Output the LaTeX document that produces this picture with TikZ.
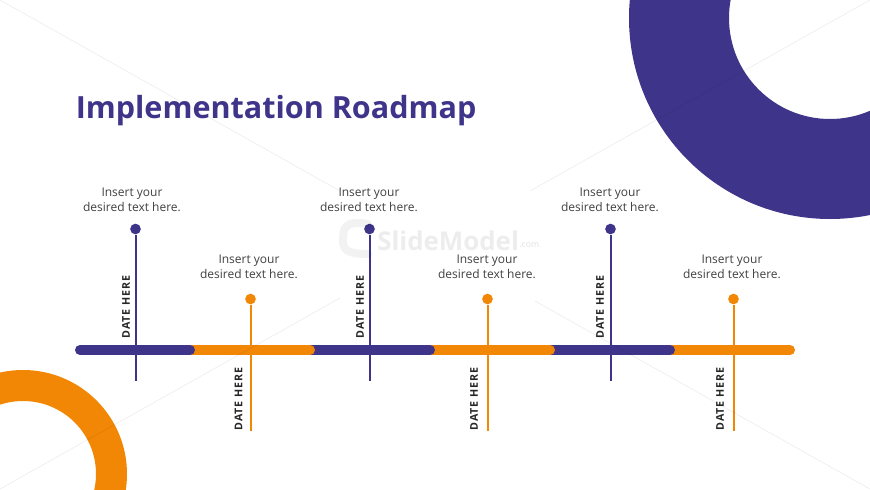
\documentclass[tikz,border=0pt]{standalone}
\usepackage{fontspec}
\usetikzlibrary{positioning}
\setmainfont{Open Sans}
\newfontfamily\datefont[LetterSpace=9]{Open Sans}
\definecolor{roadpurple}{HTML}{3E358B}
\definecolor{roadorange}{HTML}{F28705}
\definecolor{roadtext}{HTML}{404040}
\tikzset{
	blurb/.style={align=center, text=roadtext, font=\fontsize{9}{11.2}\selectfont, inner sep=0pt},
	datelabel/.style={rotate=90, text=black!85, font=\datefont\bfseries\fontsize{8}{9}\selectfont, inner sep=0pt},
	pinpurple/.style={circle, fill=roadpurple, minimum size=8pt, inner sep=0pt},
	pinorange/.style={circle, fill=roadorange, minimum size=8pt, inner sep=0pt},
	stempurple/.style={draw=roadpurple, line width=1.5pt},
	stemorange/.style={draw=roadorange, line width=1.5pt},
	barpurple/.style={draw=roadpurple, line width=7.5pt, line cap=round},
	barorange/.style={draw=roadorange, line width=7.5pt, line cap=round},
	faint/.style={draw=black, opacity=.07, line width=.5pt}
}
\begin{document}
\begin{tikzpicture}[x=0.75pt, y=-0.75pt]
\useasboundingbox (0,0) rectangle (870,489);
\begin{scope}
\clip (0,0) rectangle (870,489);
\fill[roadpurple, even odd rule] (830,18) circle [radius=201] (830,18) circle [radius=101];
\fill[roadorange, even odd rule] (23,474) circle [radius=104] (23,474) circle [radius=73];
\end{scope}

\node (title) [anchor=west, text=roadpurple, font=\bfseries\fontsize{22.9}{26}\selectfont, inner sep=0pt] at (75.5,111) {Implementation Roadmap};

% bar, last piece first so each one lies on the next
\coordinate (b0) at (80,350);
\coordinate (b1) at (190,350);
\coordinate (b2) at (310,350);
\coordinate (b3) at (430,350);
\coordinate (b4) at (550,350);
\coordinate (b5) at (670,350);
\coordinate (b6) at (790,350);
\draw[barorange] (b5) -- (b6);
\draw[barpurple] (b4) -- (b5);
\draw[barorange] (b3) -- (b4);
\draw[barpurple] (b2) -- (b3);
\draw[barorange] (b1) -- (b2);
\draw[barpurple] (b0) -- (b1);

\node (p1) [pinpurple] at (135.5,229) {};
\node (p2) [pinorange] at (250.5,299) {};
\node (p3) [pinpurple] at (369.5,229) {};
\node (p4) [pinorange] at (487.5,299) {};
\node (p5) [pinpurple] at (610.5,229) {};
\node (p6) [pinorange] at (733.5,299) {};
\coordinate (e1) at (135.5,381);
\coordinate (e2) at (250.5,431);
\coordinate (e3) at (369.5,381);
\coordinate (e4) at (487.5,431);
\coordinate (e5) at (610.5,381);
\coordinate (e6) at (733.5,431);
\draw[stempurple] (p1) -- (e1);
\draw[stemorange] (p2) -- (e2);
\draw[stempurple] (p3) -- (e3);
\draw[stemorange] (p4) -- (e4);
\draw[stempurple] (p5) -- (e5);
\draw[stemorange] (p6) -- (e6);

\node (t1) [blurb] at (132,200) {Insert your\\desired text here.};
\node (t2) [blurb] at (249,267) {Insert your\\desired text here.};
\node (t3) [blurb] at (369,200) {Insert your\\desired text here.};
\node (t4) [blurb] at (487,267) {Insert your\\desired text here.};
\node (t5) [blurb] at (610,200) {Insert your\\desired text here.};
\node (t6) [blurb] at (732,267) {Insert your\\desired text here.};

\node (d1) [datelabel] at (126,307) {DATE HERE};
\node (d2) [datelabel] at (238.5,399) {DATE HERE};
\node (d3) [datelabel] at (360,307) {DATE HERE};
\node (d4) [datelabel] at (474,399) {DATE HERE};
\node (d5) [datelabel] at (600,307) {DATE HERE};
\node (d6) [datelabel] at (720,399) {DATE HERE};

% watermark
\coordinate (c1) at (870,0);
\coordinate (c2) at (530,191);
\coordinate (c3) at (340,298);
\coordinate (c4) at (0,489);
\coordinate (c5) at (0,0);
\coordinate (c6) at (340,191);
\coordinate (c7) at (535,301);
\coordinate (c8) at (870,489);
\draw[faint] (c1) -- (c2);
\draw[faint] (c3) -- (c4);
\draw[faint] (c5) -- (c6);
\draw[faint] (c7) -- (c8);
\draw[line width=6pt, draw=black, opacity=.05, line cap=round] (368,224) .. controls (345,220) and (343,228) .. (343,240) .. controls (343,250) and (347,254) .. (368,254);
\node (logo) [anchor=west, text=black, opacity=.07, font=\bfseries\fontsize{19.4}{20}\selectfont, inner sep=0pt, text depth=0pt, text height=14pt] at (377,241.5) {SlideModel};
\node (logodot) [right=0pt of logo.east, yshift=-3pt, text=black, opacity=.12, font=\fontsize{6.5}{7}\selectfont, inner sep=0pt] {.com};
\end{tikzpicture}
\end{document}
